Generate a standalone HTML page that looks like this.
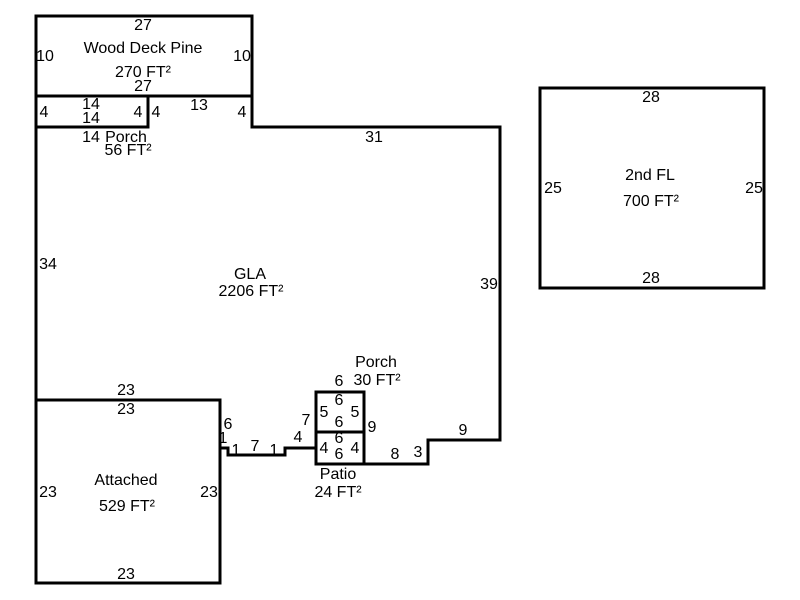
<!DOCTYPE html>
<html><head><meta charset="utf-8"><style>
html,body{margin:0;padding:0;background:#fff;width:800px;height:600px;overflow:hidden}
svg text{font-family:"Liberation Sans",Arial,sans-serif;font-size:16px;fill:#000;text-anchor:middle}
</style></head><body>
<svg width="800" height="600" viewBox="0 0 800 600" xmlns="http://www.w3.org/2000/svg">
<g fill="none" stroke="#000" stroke-width="3">
<rect x="36" y="16" width="216" height="80"/>
<rect x="36" y="96" width="112" height="31"/>
<polyline points="252,96 252,127 500,127 500,440 428,440 428,464 364,464"/>
<line x1="36" y1="127" x2="36" y2="400"/>
<rect x="36" y="400" width="184" height="183"/>
<rect x="316" y="392" width="48" height="40"/>
<rect x="316" y="432" width="48" height="32"/>
<polyline points="316,448 285,448 285,455 228,455 228,448 220,448"/>
<rect x="540" y="88" width="224" height="200"/>
</g>
<text x="143" y="30">27</text>
<text x="143" y="53">Wood Deck Pine</text>
<text x="143" y="77">270 FT²</text>
<text x="143" y="91">27</text>
<text x="45" y="61">10</text>
<text x="242" y="61">10</text>
<text x="44" y="117">4</text>
<text x="91" y="109">14</text>
<text x="91" y="123">14</text>
<text x="138" y="117">4</text>
<text x="156" y="117">4</text>
<text x="199" y="110">13</text>
<text x="242" y="117">4</text>
<text x="91" y="142">14</text>
<text x="126" y="142">Porch</text>
<text x="128" y="155">56 FT²</text>
<text x="374" y="142">31</text>
<text x="48" y="269">34</text>
<text x="250" y="279">GLA</text>
<text x="251" y="296">2206 FT²</text>
<text x="489" y="289">39</text>
<text x="376" y="367">Porch</text>
<text x="377" y="385">30 FT²</text>
<text x="339" y="386">6</text>
<text x="339" y="405">6</text>
<text x="339" y="427">6</text>
<text x="324" y="417">5</text>
<text x="355" y="417">5</text>
<text x="372" y="432">9</text>
<text x="306" y="425">7</text>
<text x="298" y="442">4</text>
<text x="339" y="443">6</text>
<text x="339" y="459">6</text>
<text x="324" y="453">4</text>
<text x="355" y="453">4</text>
<text x="338" y="479">Patio</text>
<text x="338" y="497">24 FT²</text>
<text x="395" y="459">8</text>
<text x="418" y="457">3</text>
<text x="463" y="435">9</text>
<text x="228" y="429">6</text>
<text x="223" y="443">1</text>
<text x="236" y="455">1</text>
<text x="255" y="451">7</text>
<text x="274" y="455">1</text>
<text x="126" y="395">23</text>
<text x="126" y="414">23</text>
<text x="48" y="497">23</text>
<text x="209" y="497">23</text>
<text x="126" y="485">Attached</text>
<text x="127" y="511">529 FT²</text>
<text x="126" y="579">23</text>
<text x="651" y="102">28</text>
<text x="650" y="180">2nd FL</text>
<text x="651" y="206">700 FT²</text>
<text x="553" y="193">25</text>
<text x="754" y="193">25</text>
<text x="651" y="283">28</text>
</svg>
</body></html>
